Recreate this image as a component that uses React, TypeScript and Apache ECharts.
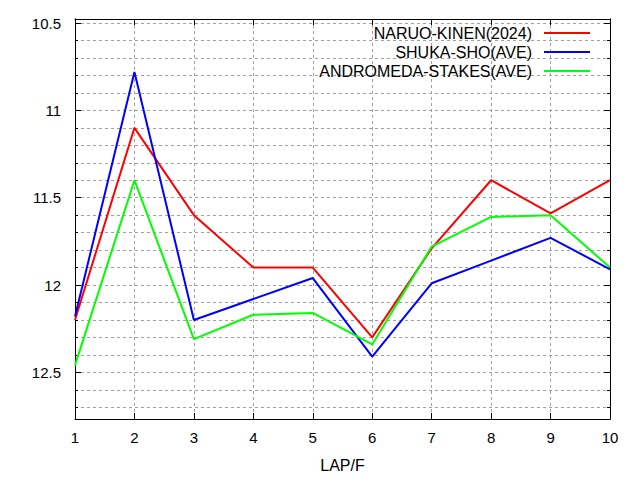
import React, { useEffect, useRef } from "react";
import * as echarts from "echarts";

const LAPS = [1, 2, 3, 4, 5, 6, 7, 8, 9, 10];
const NARUO = [12.2, 11.1, 11.6, 11.9, 11.9, 12.3, 11.79, 11.4, 11.59, 11.4];
const SHUKA = [12.18, 10.78, 12.2, 12.08, 11.96, 12.41, 11.99, 11.86, 11.73, 11.91];
const ANDROMEDA = [12.46, 11.4, 12.31, 12.17, 12.16, 12.34, 11.78, 11.61, 11.6, 11.9];
const SERIES_NAMES = ["NARUO-KINEN(2024)", "SHUKA-SHO(AVE)", "ANDROMEDA-STAKES(AVE)"];
const Y_MAJOR = [10.5, 11, 11.5, 12, 12.5];
const Y_MINOR = [
  10.5, 10.6, 10.7, 10.8, 10.9, 11, 11.1, 11.2, 11.3, 11.4, 11.5, 11.6,
  11.7, 11.8, 11.9, 12, 12.1, 12.2, 12.3, 12.4, 12.5, 12.6, 12.7,
];
const Y_MIN = 10.477;
const Y_MAX = 12.767;

const FONT = "Liberation Sans";

export default function App() {
  const ref = useRef<HTMLDivElement>(null);
  useEffect(() => {
    if (!ref.current) return;
    const chart = echarts.init(ref.current, undefined, { renderer: "svg" });
    const axisLine = { show: true, lineStyle: { color: "#000", width: 1 } };
    const dashed = { show: true, lineStyle: { color: "#a0a0a0", width: 1, type: [3, 3] } };
    const yBase = (position: string, ticks: number[], len: number, labels: boolean, split: boolean) => ({
      type: "value",
      inverse: true,
      min: Y_MIN,
      max: Y_MAX,
      position,
      axisLine,
      axisTick: { show: true, inside: true, length: len, customValues: ticks, lineStyle: { color: "#000" } },
      axisLabel: labels
        ? { show: true, customValues: Y_MAJOR, margin: 14, fontSize: 15, fontFamily: FONT, color: "#000", formatter: (v: number) => String(v) }
        : { show: false },
      splitLine: split ? dashed : { show: false },
    });
    const colors = ["#ff0000", "#0000ff", "#00ff00"];
    const values = [NARUO, SHUKA, ANDROMEDA];
    chart.setOption({
      animation: false,
      grid: { left: 75, right: 30, top: 19, bottom: 61, containLabel: false },
      legend: {
        orient: "vertical",
        right: 50,
        top: 23.5,
        align: "right",
        padding: 0,
        itemGap: 0,
        itemWidth: 46,
        itemHeight: 2,
        icon: "rect",
        data: SERIES_NAMES,
        textStyle: { fontSize: 16, fontFamily: FONT, color: "#000", lineHeight: 19, padding: [0, 7, 0, 0] },
      },
      xAxis: [
        {
          type: "value",
          min: 1,
          max: 10,
          interval: 1,
          position: "bottom",
          name: "LAP/F",
          nameLocation: "middle",
          nameGap: 38,
          nameTextStyle: { fontSize: 16, fontFamily: FONT, color: "#000" },
          axisLine,
          axisTick: { show: true, inside: true, length: 6, lineStyle: { color: "#000" } },
          axisLabel: { show: true, margin: 11, fontSize: 15, fontFamily: FONT, color: "#000" },
          splitLine: dashed,
        },
        {
          type: "value",
          min: 1,
          max: 10,
          interval: 1,
          position: "top",
          axisLine,
          axisTick: { show: true, inside: true, length: 6, lineStyle: { color: "#000" } },
          axisLabel: { show: false },
          splitLine: { show: false },
        },
      ],
      yAxis: [
        yBase("left", Y_MINOR, 3, true, true),
        yBase("left", Y_MAJOR, 6, false, false),
        yBase("right", Y_MINOR, 3, false, false),
        yBase("right", Y_MAJOR, 6, false, false),
      ],
      series: SERIES_NAMES.map((name, i) => ({
        name,
        type: "line",
        xAxisIndex: 0,
        yAxisIndex: 0,
        showSymbol: false,
        symbol: "none",
        color: colors[i],
        lineStyle: { color: colors[i], width: 2 },
        data: LAPS.map((lap, j) => [lap, values[i][j]]),
      })),
    });
    return () => chart.dispose();
  }, []);
  return <div ref={ref} style={{ position: "absolute", left: 0, top: 0, width: 640, height: 480, background: "#fff" }} />;
}
